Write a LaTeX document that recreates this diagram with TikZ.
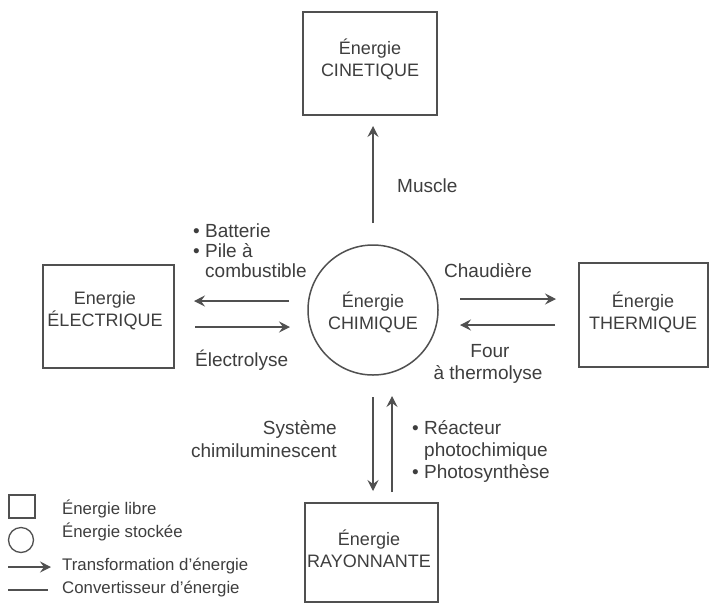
\documentclass[tikz,border=0pt]{standalone}
\usepackage{fontspec}
\setmainfont{Liberation Sans}
\usetikzlibrary{arrows.meta}
\definecolor{ink}{HTML}{3E3E3E}
\definecolor{linec}{HTML}{505050}
\tikzset{
  boxn/.style={draw=linec, line width=1.5pt, rectangle, inner sep=0pt},
  boxtext/.style={text=ink, align=center, font=\fontsize{18}{22}\selectfont, inner sep=0pt},
  lbl/.style={text=ink, font=\fontsize{19}{22}\selectfont, inner sep=0pt, text height=13.5pt, text depth=4pt},
  leg/.style={text=ink, font=\fontsize{16.8}{20}\selectfont, inner sep=0pt, text height=12pt, text depth=3pt, anchor=west},
  arr/.style={draw=linec, line width=1.3pt, -{Stealth[length=11pt,width=11pt,inset=4pt]}},
  plain/.style={draw=linec, line width=1.3pt}
}
\begin{document}
\begin{tikzpicture}[x=1pt,y=-1pt]
\useasboundingbox (0,0) rectangle (709,606);
\fill[white] (0,0) rectangle (709,606);

% boxes
\node[boxn, minimum width=134pt, minimum height=103pt] (cin) at (370,63.5) {};
\node[boxtext] (cint) at (370,59) {Énergie\\CINETIQUE};
\node[boxn, minimum width=131pt, minimum height=103pt] (ele) at (108.5,316.5) {};
\node[boxtext] (elet) at (105,311) {Energie\\ÉLECTRIQUE};
\node[boxn, minimum width=129pt, minimum height=104pt] (the) at (643.5,315) {};
\node[boxtext] (thet) at (643,312) {Énergie\\THERMIQUE};
\node[boxn, minimum width=133pt, minimum height=99pt] (ray) at (371.5,552.5) {};
\node[boxtext] (rayt) at (369,549) {Énergie\\RAYONNANTE};
\node[boxn, circle, minimum size=130pt] (chi) at (373,310) {};
\node[boxtext] (chit) at (373,312) {Énergie\\CHIMIQUE};

% arrow end points
\coordinate (m1) at (373,223); \coordinate (m2) at (373,126);
\coordinate (l1) at (289,301); \coordinate (l2) at (194,301);
\coordinate (l3) at (195,327); \coordinate (l4) at (290,327);
\coordinate (r1) at (460,299); \coordinate (r2) at (556,299);
\coordinate (r3) at (555,325); \coordinate (r4) at (460,325);
\coordinate (d1) at (373,397); \coordinate (d2) at (373,491);
\coordinate (u1) at (392,492); \coordinate (u2) at (392,396);

\draw[arr] (m1) -- (m2);
\draw[arr] (l1) -- (l2);
\draw[arr] (l3) -- (l4);
\draw[arr] (r1) -- (r2);
\draw[arr] (r3) -- (r4);
\draw[arr] (d1) -- (d2);
\draw[arr] (u1) -- (u2);

% labels
\node[lbl, anchor=west] (mus) at (397,188) {Muscle};
\node[lbl, anchor=west] (bat) at (193,233) {• Batterie};
\node[lbl, anchor=west] (pil) at (193,253) {• Pile à};
\node[lbl, anchor=west] (com) at (205,273) {combustible};
\node[lbl, anchor=west] (elc) at (195,362) {Électrolyse};
\node[lbl] (cha) at (488,273) {Chaudière};
\node[lbl] (fou) at (490,353) {Four};
\node[lbl] (tmo) at (488,375) {à thermolyse};
\node[lbl, anchor=east] (sys) at (337,430) {Système};
\node[lbl, anchor=east] (chl) at (337,453) {chimiluminescent};
\node[lbl, anchor=west] (rea) at (412,430) {• Réacteur};
\node[lbl, anchor=west] (pho) at (424,452) {photochimique};
\node[lbl, anchor=west] (phs) at (412,474) {• Photosynthèse};

% legend
\node[draw=linec, line width=1.3pt, rectangle, minimum width=26pt, minimum height=23pt, inner sep=0pt] (lsq) at (22,506.5) {};
\node[draw=linec, line width=1.3pt, circle, minimum size=25pt, inner sep=0pt] (lci) at (21,540) {};
\coordinate (la1) at (8,567); \coordinate (la2) at (51,567);
\draw[arr] (la1) -- (la2);
\coordinate (ll1) at (8,590); \coordinate (ll2) at (48,590);
\draw[plain] (ll1) -- (ll2);
\node[leg] (lt1) at (62,510) {Énergie libre};
\node[leg] (lt2) at (62,533) {Énergie stockée};
\node[leg] (lt3) at (62,566) {Transformation d'énergie};
\node[leg] (lt4) at (62,589) {Convertisseur d'énergie};
\end{tikzpicture}
\end{document}
